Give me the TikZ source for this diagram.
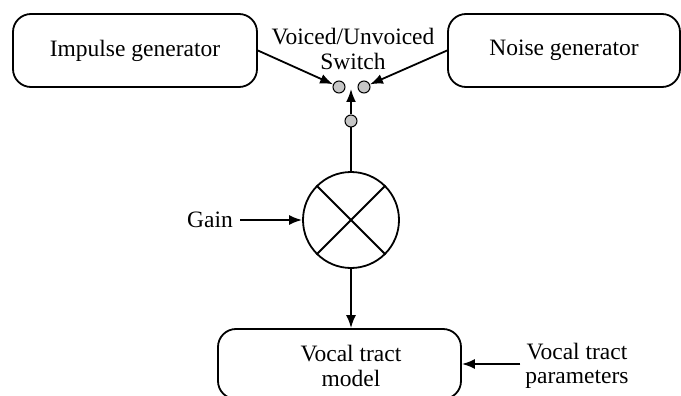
\documentclass[tikz,border=0pt]{standalone}
\usepackage{fontspec}
\setmainfont{Liberation Serif}
\usetikzlibrary{arrows.meta}
\begin{document}
\begin{tikzpicture}[x=1pt,y=-1pt,
  box/.style={draw,line width=1.8pt,rounded corners=18pt,inner sep=0pt},
  lbl/.style={font=\fontsize{23.5}{24.5}\selectfont,align=center,inner sep=0pt},
  tap/.style={circle,draw,line width=1pt,fill=gray!45,minimum size=12pt,inner sep=0pt},
  wire/.style={line width=1.8pt},
  conn/.style={wire,-{Latex[length=13pt,width=10pt]}}]
\useasboundingbox (0,0) rectangle (681,396);

% sources
\node[box,lbl,minimum width=244pt,minimum height=73pt] (imp) at (135,50.5) {Impulse generator};
\node[box,lbl,minimum width=232pt,minimum height=73pt] (noise) at (564,50.5) {Noise generator};

% switch
\node[lbl] (swlabel) at (353,49) {Voiced/Unvoiced\\Switch};
\node[tap] (sv) at (339,87) {};
\node[tap] (su) at (364,87) {};
\node[tap] (so) at (351,121) {};
\coordinate (swtip) at (351,89);

% gain multiplier
\node[circle,draw,line width=1.8pt,minimum size=96pt,inner sep=0pt] (mix) at (351,220) {};
\draw[wire] (mix.north west) -- (mix.south east);
\draw[wire] (mix.north east) -- (mix.south west);
\node[lbl,inner xsep=7pt] (gain) at (210,220) {Gain};

% vocal tract
\node[box,minimum width=243pt,minimum height=70pt] (vt) at (339.5,364) {};
\node[lbl] (vtlabel) at (351,366) {Vocal tract\\model};
\node[lbl,inner xsep=5pt] (params) at (577,366) {Vocal tract\\parameters};

% connections
\draw[conn] (imp.east) -- (sv);
\draw[conn] (noise.west) -- (su);
\draw[conn] (so) -- (swtip);
\draw[wire] (mix.north) -- (so);
\draw[conn] (gain) -- (mix);
\draw[conn] (mix.south) -- (mix.south |- vt.north);
\draw[conn] (params.west |- vt.east) -- (vt.east);
\end{tikzpicture}
\end{document}
